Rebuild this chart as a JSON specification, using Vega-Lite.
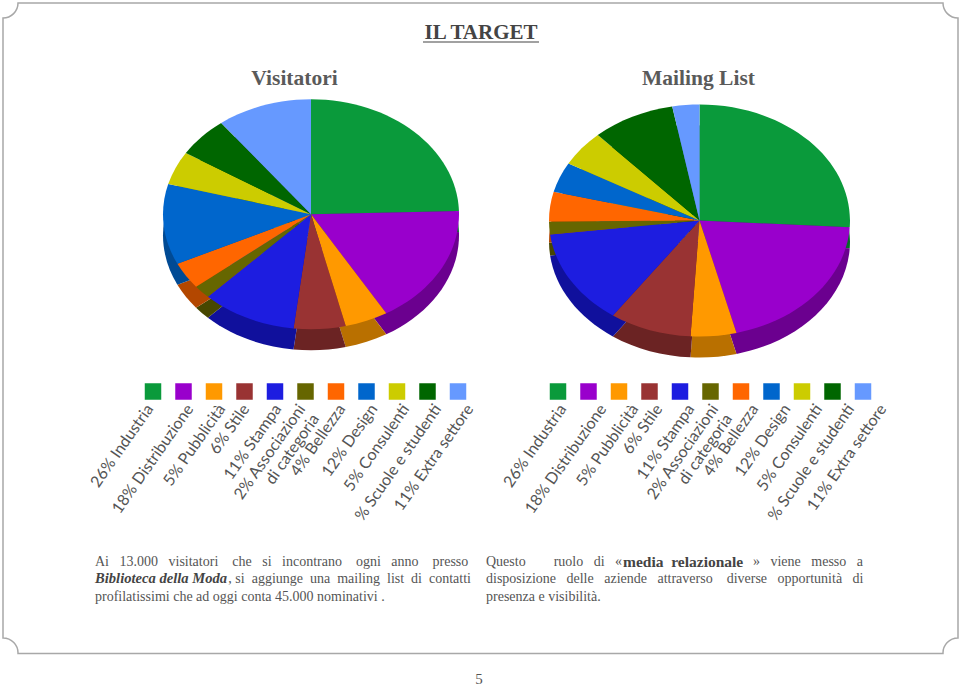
{"$schema":"https://vega.github.io/schema/vega-lite/v6.json","autosize":{"type":"fit","contains":"padding"},"width":959,"height":685,"padding":0,"background":"white","config":{"view":{"stroke":null},"legend":{"disable":true},"axis":{"disable":true}},
"datasets":{"pie":[
{"chart":"Visitatori","label":"26% Industria","v":26},{"chart":"Visitatori","label":"18% Distribuzione","v":18},{"chart":"Visitatori","label":"5% Pubblicità","v":5},{"chart":"Visitatori","label":"6% Stile","v":6},{"chart":"Visitatori","label":"11% Stampa","v":11},{"chart":"Visitatori","label":"2% Associazioni\ndi categoria","v":2},{"chart":"Visitatori","label":"4% Bellezza","v":4},{"chart":"Visitatori","label":"12% Design","v":12},{"chart":"Visitatori","label":"5% Consulenti","v":5},{"chart":"Visitatori","label":"% Scuole e studenti","v":6},{"chart":"Visitatori","label":"11% Extra settore","v":11},
{"chart":"Mailing List","label":"26% Industria","v":25.9},{"chart":"Mailing List","label":"18% Distribuzione","v":20.1},{"chart":"Mailing List","label":"5% Pubblicità","v":4.9},{"chart":"Mailing List","label":"6% Stile","v":8.8},{"chart":"Mailing List","label":"11% Stampa","v":13.3},{"chart":"Mailing List","label":"2% Associazioni\ndi categoria","v":1.8},{"chart":"Mailing List","label":"4% Bellezza","v":4.1},{"chart":"Mailing List","label":"12% Design","v":4.2},{"chart":"Mailing List","label":"5% Consulenti","v":5},{"chart":"Mailing List","label":"% Scuole e studenti","v":8.9},{"chart":"Mailing List","label":"11% Extra settore","v":2.9}
]},
"layer":[
{"data":{"values":[{"t":"frame"}]},"mark":{"type":"point","filled":false,"opacity":1,"size":4,"stroke":"#a8a8a8","strokeWidth":1.5,"shape":"M17,1H942A15,15,0,0,0,957,16V636A15,15,0,0,0,942,651.5H17A15,15,0,0,0,2,636V16A15,15,0,0,0,17,1Z"},"encoding":{"x":{"value":0},"y":{"value":0}}},
{"data":{"name":"pie"},"transform":[{"stack":"v","groupby":["chart"],"offset":"normalize","as":["a0","a1"]},{"calculate":"datum.chart==='Visitatori'?0.777:0.771","as":"k"},{"calculate":"'M0,0L'+round(1e5*sin(2*PI*datum.a0))/1e5+','+round(-1e5*datum.k*cos(2*PI*datum.a0))/1e5+'A1,'+datum.k+',0,'+(datum.a1-datum.a0>0.5?1:0)+',1,'+round(1e5*sin(2*PI*datum.a1))/1e5+','+round(-1e5*datum.k*cos(2*PI*datum.a1))/1e5+'Z'","as":"wedge"}],"mark":{"type":"point","filled":true,"opacity":1,"strokeWidth":0},"encoding":{"x":{"field":"chart","type":"nominal","axis":null,"scale":{"type":"point","padding":0,"domain":["Visitatori","Mailing List"],"range":[310,698.5]}},"y":{"field":"chart","type":"nominal","axis":null,"scale":{"type":"point","padding":0,"domain":["Visitatori","Mailing List"],"range":[233.3,239.5]}},"shape":{"field":"wedge","type":"nominal","scale":null},"size":{"field":"chart","type":"ordinal","scale":{"domain":["Visitatori","Mailing List"],"range":[87616,90601]}},"color":{"field":"label","type":"nominal","scale":{"domain":["26% Industria","18% Distribuzione","5% Pubblicità","6% Stile","11% Stampa","2% Associazioni\ndi categoria","4% Bellezza","12% Design","5% Consulenti","% Scuole e studenti","11% Extra settore"],"range":["#066b29","#6b008f","#b97000","#6b2323","#10109c","#474700","#b34700","#004a94","#8f8f00","#004700","#476bb3"]}}}},
{"data":{"name":"pie"},"transform":[{"stack":"v","groupby":["chart"],"offset":"normalize","as":["a0","a1"]},{"calculate":"datum.chart==='Visitatori'?0.777:0.771","as":"k"},{"calculate":"'M0,0L'+round(1e5*sin(2*PI*datum.a0))/1e5+','+round(-1e5*datum.k*cos(2*PI*datum.a0))/1e5+'A1,'+datum.k+',0,'+(datum.a1-datum.a0>0.5?1:0)+',1,'+round(1e5*sin(2*PI*datum.a1))/1e5+','+round(-1e5*datum.k*cos(2*PI*datum.a1))/1e5+'Z'","as":"wedge"}],"mark":{"type":"point","filled":true,"opacity":1,"strokeWidth":0},"encoding":{"x":{"field":"chart","type":"nominal","axis":null,"scale":{"type":"point","padding":0,"domain":["Visitatori","Mailing List"],"range":[310,698.5]}},"y":{"field":"chart","type":"nominal","axis":null,"scale":{"type":"point","padding":0,"domain":["Visitatori","Mailing List"],"range":[212.3,218.5]}},"shape":{"field":"wedge","type":"nominal","scale":null},"size":{"field":"chart","type":"ordinal","scale":{"domain":["Visitatori","Mailing List"],"range":[87616,90601]}},"color":{"field":"label","type":"nominal","scale":{"domain":["26% Industria","18% Distribuzione","5% Pubblicità","6% Stile","11% Stampa","2% Associazioni\ndi categoria","4% Bellezza","12% Design","5% Consulenti","% Scuole e studenti","11% Extra settore"],"range":["#0a9a3b","#9900cc","#ff9900","#993333","#1d1de0","#666600","#ff6600","#0066cc","#cccc00","#006600","#6699ff"]}}}},
{"data":{"name":"pie"},"transform":[{"filter":"datum.chart==='Visitatori'"}],"mark":{"type":"point","shape":"square","filled":true,"opacity":1,"size":272,"strokeWidth":0},"encoding":{"x":{"field":"label","type":"nominal","sort":null,"axis":null,"scale":{"type":"point","padding":0,"range":[152,457]}},"y":{"value":389.5},"color":{"field":"label","type":"nominal","scale":{"domain":["26% Industria","18% Distribuzione","5% Pubblicità","6% Stile","11% Stampa","2% Associazioni\ndi categoria","4% Bellezza","12% Design","5% Consulenti","% Scuole e studenti","11% Extra settore"],"range":["#0a9a3b","#9900cc","#ff9900","#993333","#1d1de0","#666600","#ff6600","#0066cc","#cccc00","#006600","#6699ff"]}}}},
{"data":{"name":"pie"},"transform":[{"filter":"datum.chart==='Mailing List'"}],"mark":{"type":"point","shape":"square","filled":true,"opacity":1,"size":272,"strokeWidth":0},"encoding":{"x":{"field":"label","type":"nominal","sort":null,"axis":null,"scale":{"type":"point","padding":0,"range":[557,862]}},"y":{"value":389.5},"color":{"field":"label","type":"nominal","scale":{"domain":["26% Industria","18% Distribuzione","5% Pubblicità","6% Stile","11% Stampa","2% Associazioni\ndi categoria","4% Bellezza","12% Design","5% Consulenti","% Scuole e studenti","11% Extra settore"],"range":["#0a9a3b","#9900cc","#ff9900","#993333","#1d1de0","#666600","#ff6600","#0066cc","#cccc00","#006600","#6699ff"]}}}},
{"data":{"name":"pie"},"transform":[{"filter":"datum.chart==='Visitatori'"}],"mark":{"type":"text","font":"Lato","fontSize":16,"color":"#555555","align":"right","baseline":"alphabetic","angle":305,"lineBreak":"\n","lineHeight":17},"encoding":{"text":{"field":"label"},"x":{"field":"label","type":"nominal","axis":null,"scale":{"type":"point","padding":0,"range":[153,473],"domain":["26% Industria","g1","g2","g3","g4","18% Distribuzione","g6","g7","g8","5% Pubblicità","g10","g11","6% Stile","g13","g14","g15","11% Stampa","g17","g18","2% Associazioni\ndi categoria","g20","g21","g22","g23","4% Bellezza","g25","g26","g27","12% Design","g29","g30","g31","5% Consulenti","g33","g34","g35","% Scuole e studenti","g37","g38","g39","11% Extra settore"]}},"y":{"value":407}}},
{"data":{"name":"pie"},"transform":[{"filter":"datum.chart==='Mailing List'"}],"mark":{"type":"text","font":"Lato","fontSize":16,"color":"#555555","align":"right","baseline":"alphabetic","angle":305,"lineBreak":"\n","lineHeight":17},"encoding":{"text":{"field":"label"},"x":{"field":"label","type":"nominal","axis":null,"scale":{"type":"point","padding":0,"range":[566,886],"domain":["26% Industria","g1","g2","g3","g4","18% Distribuzione","g6","g7","g8","5% Pubblicità","g10","g11","6% Stile","g13","g14","g15","11% Stampa","g17","g18","2% Associazioni\ndi categoria","g20","g21","g22","g23","4% Bellezza","g25","g26","g27","12% Design","g29","g30","g31","5% Consulenti","g33","g34","g35","% Scuole e studenti","g37","g38","g39","11% Extra settore"]}},"y":{"value":407}}},
{"data":{"values":[{"t":"u"}]},"mark":{"type":"rule","stroke":"#444444","strokeWidth":1.2},"encoding":{"x":{"value":422},"x2":{"value":538},"y":{"value":40}}},
{"data":{"values":[{"t":"IL TARGET"}]},"mark":{"type":"text","font":"Liberation Serif","fontWeight":"bold","fontSize":21,"color":"#444444","align":"center"},"encoding":{"text":{"field":"t"},"x":{"value":480},"y":{"value":31}}},
{"data":{"values":[{"t":"Visitatori"}]},"mark":{"type":"text","font":"Liberation Serif","fontWeight":"bold","fontSize":21.5,"color":"#5a5a5a","align":"center"},"encoding":{"text":{"field":"t"},"x":{"value":293.5},"y":{"value":77}}},
{"data":{"values":[{"t":"Mailing List"}]},"mark":{"type":"text","font":"Liberation Serif","fontWeight":"bold","fontSize":21.5,"color":"#5a5a5a","align":"center"},"encoding":{"text":{"field":"t"},"x":{"value":697.5},"y":{"value":77}}},
{"data":{"values":[{"t":"Ai\u00a0\u00a0 13.000\u00a0\u00a0 visitatori\u00a0\u00a0\u00a0 che\u00a0\u00a0 si\u00a0\u00a0 incontrano\u00a0\u00a0\u00a0 ogni\u00a0\u00a0 anno\u00a0\u00a0\u00a0 presso"}]},"mark":{"type":"text","font":"Liberation Serif","fontSize":14,"color":"#555555","align":"left"},"encoding":{"text":{"field":"t"},"x":{"value":94},"y":{"value":559.5}}},
{"data":{"values":[{"t":"Biblioteca della Moda"}]},"mark":{"type":"text","font":"Liberation Serif","fontSize":14.6,"fontWeight":"bold","fontStyle":"italic","color":"#444444","align":"left"},"encoding":{"text":{"field":"t"},"x":{"value":94},"y":{"value":577}}},
{"data":{"values":[{"t":", si\u00a0 aggiunge\u00a0 una\u00a0 mailing\u00a0 list\u00a0 di\u00a0 contatti"}]},"mark":{"type":"text","font":"Liberation Serif","fontSize":14,"color":"#555555","align":"right"},"encoding":{"text":{"field":"t"},"x":{"value":470},"y":{"value":577}}},
{"data":{"values":[{"t":"profilatissimi che ad oggi conta 45.000 nominativi ."}]},"mark":{"type":"text","font":"Liberation Serif","fontSize":14,"color":"#555555","align":"left"},"encoding":{"text":{"field":"t"},"x":{"value":94},"y":{"value":595}}},
{"data":{"values":[{"t":"Questo\u00a0\u00a0\u00a0\u00a0\u00a0\u00a0\u00a0 ruolo\u00a0\u00a0 di\u00a0\u00a0 «"}]},"mark":{"type":"text","font":"Liberation Serif","fontSize":14,"color":"#555555","align":"left"},"encoding":{"text":{"field":"t"},"x":{"value":485},"y":{"value":559.5}}},
{"data":{"values":[{"t":"media\u00a0 relazionale"}]},"mark":{"type":"text","font":"Liberation Serif","fontSize":15.5,"fontWeight":"bold","color":"#444444","align":"left"},"encoding":{"text":{"field":"t"},"x":{"value":622},"y":{"value":559.5}}},
{"data":{"values":[{"t":"»\u00a0\u00a0 viene\u00a0\u00a0 messo\u00a0\u00a0 a"}]},"mark":{"type":"text","font":"Liberation Serif","fontSize":14,"color":"#555555","align":"right"},"encoding":{"text":{"field":"t"},"x":{"value":862},"y":{"value":559.5}}},
{"data":{"values":[{"t":"disposizione\u00a0\u00a0 delle\u00a0\u00a0 aziende\u00a0\u00a0 attraverso\u00a0\u00a0\u00a0 diverse\u00a0\u00a0 opportunità\u00a0\u00a0 di"}]},"mark":{"type":"text","font":"Liberation Serif","fontSize":14,"color":"#555555","align":"left"},"encoding":{"text":{"field":"t"},"x":{"value":485},"y":{"value":577}}},
{"data":{"values":[{"t":"presenza e visibilità."}]},"mark":{"type":"text","font":"Liberation Serif","fontSize":14,"color":"#555555","align":"left"},"encoding":{"text":{"field":"t"},"x":{"value":485},"y":{"value":595}}},
{"data":{"values":[{"t":"5"}]},"mark":{"type":"text","font":"Liberation Serif","fontSize":15,"color":"#555555","align":"center"},"encoding":{"text":{"field":"t"},"x":{"value":478},"y":{"value":676.5}}}
],"resolve":{"scale":{"x":"independent","y":"independent","color":"independent","size":"independent"}}}
